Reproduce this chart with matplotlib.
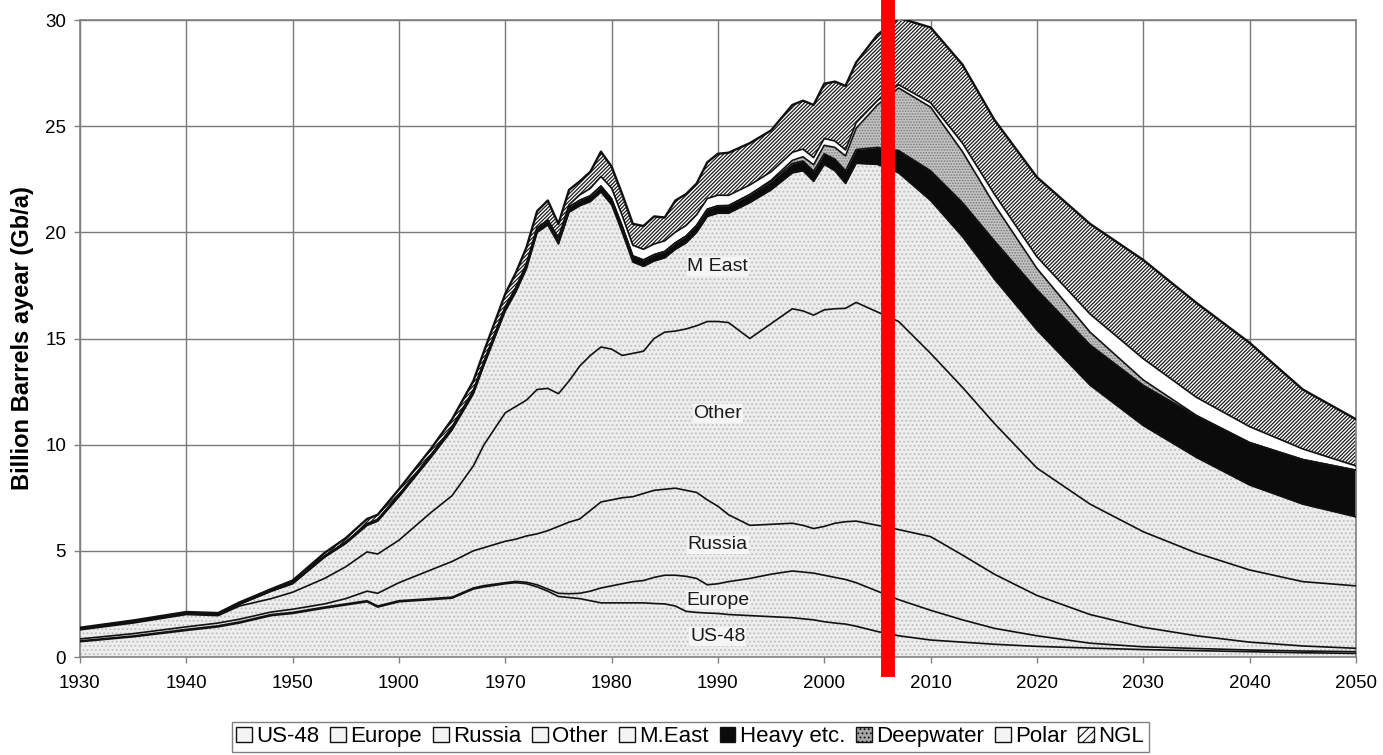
import numpy as np
import matplotlib.pyplot as plt
from matplotlib.patches import Patch

plt.rcParams['font.family'] = ['Liberation Sans', 'DejaVu Sans']

# production by region, billion barrels a year (Gb/a)
years = [1930, 1935, 1940, 1943, 1945, 1948, 1950, 1953, 1955, 1957,
         1958, 1960, 1963, 1965, 1967, 1968, 1970, 1971, 1972, 1973,
         1974, 1975, 1976, 1977, 1978, 1979, 1980, 1981, 1982, 1983,
         1984, 1985, 1986, 1987, 1988, 1989, 1990, 1991, 1993, 1995,
         1997, 1998, 1999, 2000, 2001, 2002, 2003, 2005, 2007, 2010,
         2013, 2016, 2020, 2025, 2030, 2035, 2040, 2045, 2050]

us48 = [0.72, 0.95, 1.25, 1.42, 1.60, 1.95, 2.05, 2.30, 2.45, 2.60,
        2.35, 2.60, 2.70, 2.77, 3.20, 3.30, 3.45, 3.50, 3.45, 3.30,
        3.10, 2.85, 2.80, 2.75, 2.65, 2.55, 2.55, 2.55, 2.55, 2.55,
        2.52, 2.50, 2.40, 2.15, 2.10, 2.07, 2.05, 2.00, 1.95, 1.90,
        1.85, 1.80, 1.75, 1.66, 1.60, 1.55, 1.45, 1.20, 1.00, 0.80,
        0.70, 0.60, 0.50, 0.42, 0.35, 0.30, 0.25, 0.20, 0.17]

europe = [0.04, 0.04, 0.05, 0.05, 0.05, 0.05, 0.05, 0.05, 0.05, 0.05,
          0.05, 0.05, 0.05, 0.05, 0.05, 0.06, 0.05, 0.06, 0.07, 0.10,
          0.10, 0.15, 0.18, 0.25, 0.45, 0.70, 0.80, 0.90, 1.00, 1.05,
          1.23, 1.35, 1.45, 1.65, 1.60, 1.33, 1.40, 1.55, 1.75, 2.00,
          2.20, 2.20, 2.20, 2.19, 2.15, 2.10, 2.05, 1.90, 1.70, 1.40,
          1.05, 0.75, 0.50, 0.23, 0.13, 0.10, 0.08, 0.08, 0.08]

russia = [0.09, 0.11, 0.12, 0.13, 0.13, 0.12, 0.15, 0.15, 0.25, 0.45,
          0.60, 0.85, 1.35, 1.68, 1.75, 1.79, 1.95, 1.99, 2.18, 2.40,
          2.75, 3.15, 3.37, 3.50, 3.80, 4.05, 4.05, 4.05, 4.00, 4.10,
          4.10, 4.05, 4.10, 4.05, 4.05, 4.00, 3.65, 3.15, 2.50, 2.35,
          2.25, 2.20, 2.10, 2.30, 2.55, 2.72, 2.90, 3.10, 3.30, 3.47,
          3.05, 2.55, 1.90, 1.35, 0.92, 0.60, 0.37, 0.24, 0.16]

other = [0.43, 0.50, 0.58, 0.35, 0.62, 0.63, 0.80, 1.20, 1.50, 1.85,
         1.85, 2.00, 2.70, 3.10, 4.00, 4.85, 6.05, 6.25, 6.40, 6.80,
         6.70, 6.25, 6.65, 7.20, 7.30, 7.30, 7.10, 6.70, 6.75, 6.70,
         7.15, 7.40, 7.40, 7.60, 7.85, 8.40, 8.70, 9.05, 8.80, 9.45,
         10.10, 10.10, 10.05, 10.20, 10.10, 10.05, 10.30, 10.05, 9.80, 8.63,
         7.90, 7.10, 6.00, 5.20, 4.50, 3.90, 3.40, 3.03, 2.94]

mideast = [0.04, 0.05, 0.05, 0.05, 0.08, 0.35, 0.40, 1.00, 1.10, 1.25,
           1.55, 2.05, 2.60, 3.10, 3.40, 3.75, 4.80, 5.40, 6.20, 7.40,
           7.70, 7.05, 7.95, 7.55, 7.25, 7.30, 6.80, 5.80, 4.30, 4.00,
           3.65, 3.50, 3.85, 4.05, 4.40, 4.95, 5.10, 5.15, 6.40, 6.30,
           6.40, 6.60, 6.30, 6.85, 6.50, 5.88, 6.55, 6.95, 7.00, 7.20,
           7.10, 6.80, 6.50, 5.60, 5.00, 4.50, 4.00, 3.65, 3.25]

heavy = [0.01, 0.01, 0.02, 0.02, 0.02, 0.03, 0.04, 0.05, 0.06, 0.07,
         0.07, 0.08, 0.10, 0.12, 0.14, 0.15, 0.18, 0.19, 0.20, 0.21,
         0.22, 0.24, 0.25, 0.26, 0.27, 0.28, 0.28, 0.29, 0.29, 0.30,
         0.30, 0.30, 0.31, 0.32, 0.33, 0.34, 0.35, 0.36, 0.38, 0.40,
         0.44, 0.46, 0.48, 0.50, 0.55, 0.60, 0.65, 0.80, 1.05, 1.40,
         1.60, 1.80, 1.90, 1.90, 1.90, 1.95, 2.00, 2.10, 2.20]

deepwater = [0.0, 0.0, 0.0, 0.0, 0.0, 0.0, 0.0, 0.0, 0.0, 0.0,
             0.0, 0.0, 0.0, 0.0, 0.0, 0.0, 0.0, 0.0, 0.0, 0.0,
             0.0, 0.0, 0.0, 0.0, 0.0, 0.0, 0.0, 0.0, 0.0, 0.0,
             0.0, 0.0, 0.0, 0.0, 0.0, 0.0, 0.0, 0.0, 0.0, 0.05,
             0.15, 0.20, 0.30, 0.40, 0.55, 0.70, 1.00, 2.00, 2.95, 3.00,
             2.40, 1.70, 1.00, 0.60, 0.25, 0.03, 0.0, 0.0, 0.0]

polar = [0.0, 0.0, 0.0, 0.0, 0.0, 0.0, 0.0, 0.0, 0.0, 0.0,
         0.0, 0.0, 0.0, 0.0, 0.0, 0.0, 0.0, 0.0, 0.0, 0.0,
         0.0, 0.05, 0.10, 0.25, 0.35, 0.45, 0.50, 0.50, 0.50, 0.50,
         0.50, 0.50, 0.50, 0.50, 0.50, 0.50, 0.50, 0.48, 0.45, 0.40,
         0.38, 0.36, 0.34, 0.32, 0.30, 0.28, 0.26, 0.20, 0.15, 0.20,
         0.40, 0.50, 0.55, 0.85, 1.00, 0.85, 0.75, 0.50, 0.20]

ngl = [0.05, 0.06, 0.05, 0.05, 0.07, 0.07, 0.11, 0.15, 0.19, 0.23,
       0.23, 0.27, 0.30, 0.38, 0.46, 0.50, 0.62, 0.71, 0.80, 0.79,
       0.93, 0.66, 0.70, 0.64, 0.78, 1.17, 1.02, 1.01, 1.01, 1.10,
       1.30, 1.10, 1.49, 1.48, 1.47, 1.71, 1.95, 2.01, 1.97, 1.95,
       2.23, 2.28, 2.48, 2.58, 2.80, 3.02, 2.84, 3.10, 3.15, 3.55,
       3.70, 3.50, 3.75, 4.25, 4.65, 4.45, 3.95, 2.80, 2.20]

names = ['US-48', 'Europe', 'Russia', 'Other', 'M.East',
         'Heavy etc.', 'Deepwater', 'Polar', 'NGL']
tick_years = [1930, 1940, 1950, 1960, 1970, 1980, 1990,
              2000, 2010, 2020, 2030, 2040, 2050]
tick_labels = ['1930', '1940', '1950', '1900', '1970', '1980', '1990',
               '2000', '2010', '2020', '2030', '2040', '2050']
peak_year = 2006

layers = [us48, europe, russia, other, mideast, heavy, deepwater, polar, ngl]

# fill / hatch per layer
face = ['#ededed'] * 5 + ['#0b0b0b', '#c4c4c4', 'white', 'white']
hatch_col = ['#bdbdbd'] * 5 + ['#0b0b0b', '#7a7a7a', 'white', '#1a1a1a']
hatches = ['....'] * 5 + [None, '......', None, '/////////']

fig = plt.figure(figsize=(13.83, 7.55), dpi=100)
ax = fig.add_axes([0.0578, 0.1298, 0.9226, 0.8437])

plt.rcParams['hatch.linewidth'] = 0.8
polys = ax.stackplot(years, *layers, colors=face, linewidth=0)
for p, fc, hc, h in zip(polys, face, hatch_col, hatches):
    p.set_facecolor(fc)
    p.set_edgecolor(hc)
    p.set_linewidth(0)
    if h:
        p.set_hatch(h)
    p.set_zorder(2)
if hasattr(polys[-1], 'set_hatch_linewidth'):
    polys[-1].set_hatch_linewidth(0.9)

# black outline on every boundary of the stack
cum = np.cumsum(np.array(layers), axis=0)
for i, row in enumerate(cum):
    lw = 1.7 if i == len(cum) - 1 else 1.2
    ax.plot(years, row, color='#111111', lw=lw, zorder=3)

# region labels
for txt, x, y in [('US-48', 1990, 0.96), ('Europe', 1990, 2.68),
                  ('Russia', 1990, 5.28), ('Other', 1990, 11.48),
                  ('M East', 1990, 18.38)]:
    ax.text(x, y, txt, ha='center', va='center', fontsize=14, color='#1a1a1a',
            zorder=4, bbox=dict(facecolor='#f5f5f5', edgecolor='none', pad=0.6))

# red marker at the production peak
ax.axvline(peak_year, ymin=-0.02, ymax=1.04, color='#ff0000', lw=10,
           clip_on=False, zorder=5)

ax.set_xlim(1930, 2050)
ax.set_ylim(0, 30)
ax.set_xticks(tick_years)
ax.set_xticklabels(tick_labels)
ax.set_yticks(range(0, 31, 5))
ax.tick_params(labelsize=13.5, color='#808080', length=4, width=1)
ax.tick_params(axis='x', pad=9)
ax.tick_params(axis='y', pad=6)
ax.grid(True, color='#7a7a7a', lw=1.0, zorder=0)
ax.set_axisbelow(True)
for s in ax.spines.values():
    s.set_color('#808080')
    s.set_linewidth(1.2)

ax.set_ylabel('Billion Barrels ayear (Gb/a)', fontsize=17, fontweight='bold',
              labelpad=8)

handles = []
for n in names:
    if n == 'Deepwater':
        handles.append(Patch(facecolor='#a8a8a8', edgecolor='#111111', hatch='....'))
    elif n == 'NGL':
        handles.append(Patch(facecolor='white', edgecolor='#111111', hatch='////'))
    elif n == 'Heavy etc.':
        handles.append(Patch(facecolor='#0b0b0b', edgecolor='#111111'))
    else:
        handles.append(Patch(facecolor='#f4f4f4', edgecolor='#111111'))
fig.legend(handles, names, loc='center', bbox_to_anchor=(0.499, 0.024), ncol=9,
           fontsize=16, handlelength=0.7, handleheight=0.7, handletextpad=0.2,
           columnspacing=0.5, borderpad=0.2, fancybox=False, edgecolor='#808080',
           framealpha=1)

fig.savefig('out.png', dpi=100)
